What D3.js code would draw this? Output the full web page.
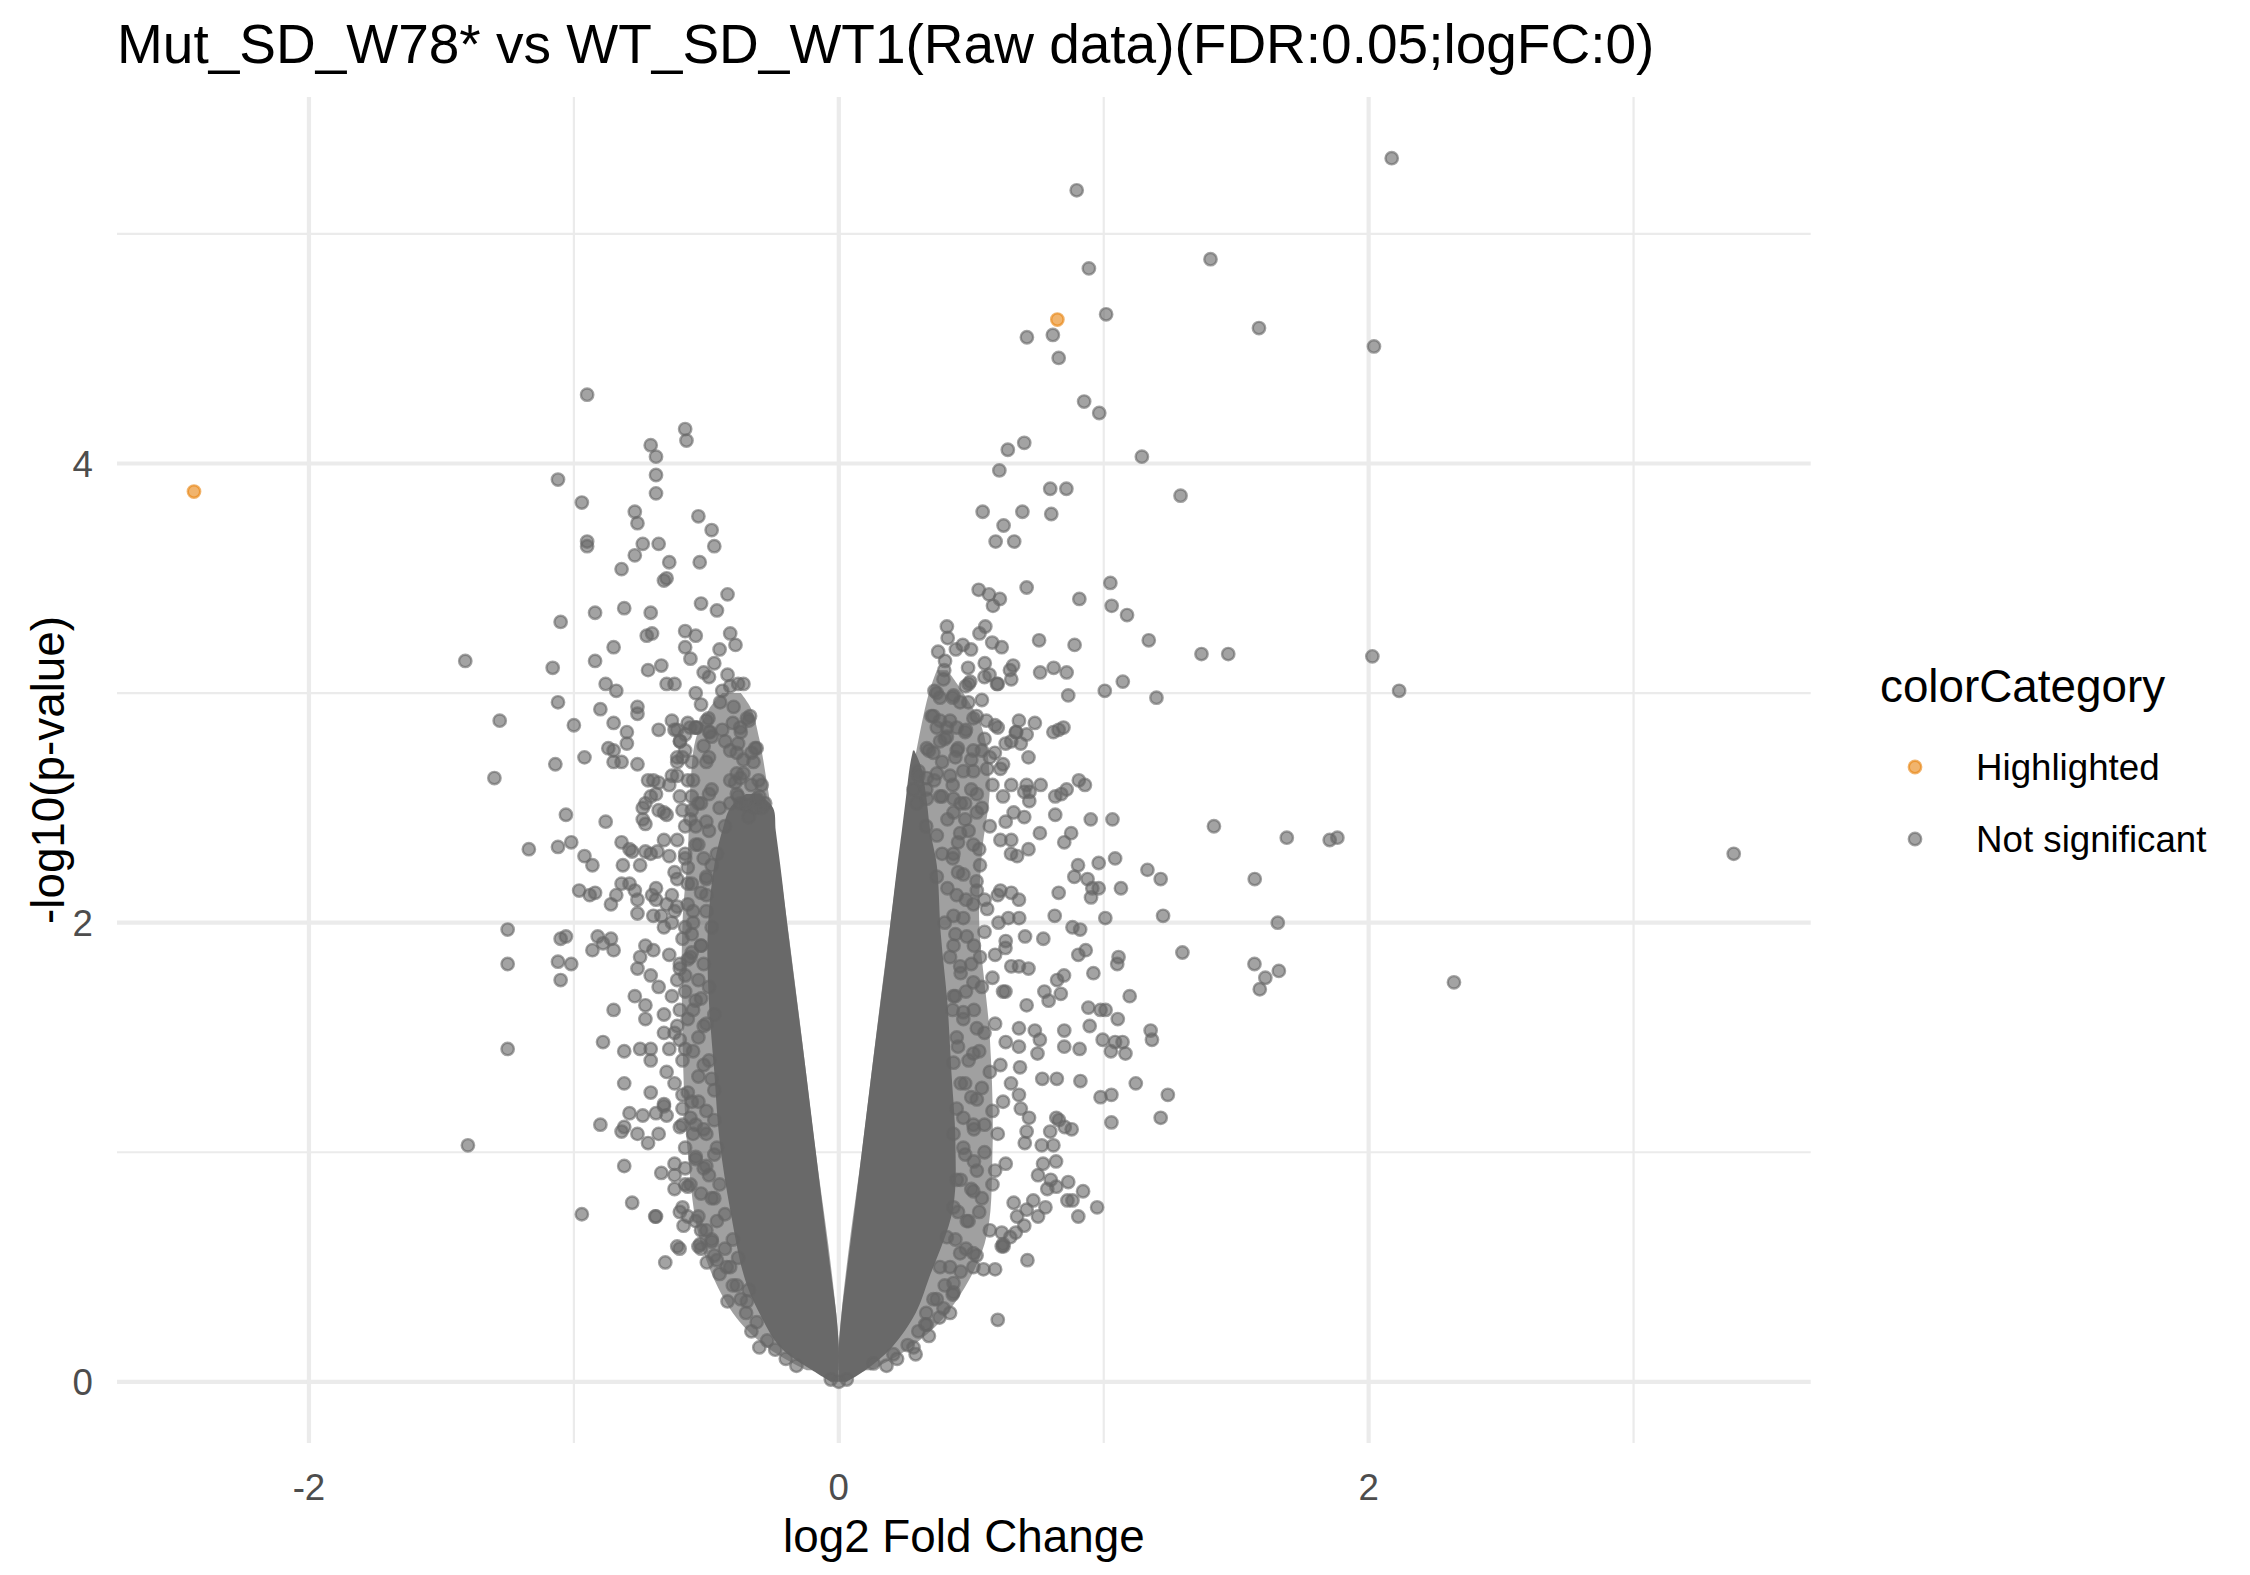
<!DOCTYPE html>
<html>
<head>
  <meta charset="utf-8">
  <title>Volcano plot</title>
  <script src="https://cdn.jsdelivr.net/npm/d3@7"></script>
  <style>
    body { margin: 0; background: #fff; }
    svg { display: block; font-family: "Liberation Sans", Arial, Helvetica, sans-serif; }
  </style>
</head>
<body>
<svg id="chart" width="2250" height="1575"></svg>
<script>
  // values: [log2 fold change, -log10(p)]
  var highlighted = [[-2.434, 3.878], [0.825, 4.627]];

  var leftUpper = [
    [-0.95,4.30],[-0.58,4.15],[-0.575,4.10],[-0.71,4.08],[-0.69,4.03],[-0.69,3.95],[-0.69,3.87],[-1.06,3.93],
    [-0.97,3.83],[-0.77,3.79],[-0.76,3.74],[-0.53,3.77],[-0.48,3.71],[-0.47,3.64],[-0.95,3.66],[-0.95,3.64],
    [-0.74,3.65],[-0.68,3.65],[-0.77,3.60],[-0.82,3.54],[-0.64,3.57],[-0.525,3.57],[-0.66,3.49],[-0.65,3.50],
    [-0.52,3.39],[-0.46,3.36],[-0.92,3.35],[-0.81,3.37],[-0.71,3.35],[-1.05,3.31],[-0.725,3.25],[-0.705,3.26],
    [-0.58,3.27],[-0.54,3.25],[-0.58,3.20],[-0.56,3.15],[-0.85,3.20],[-1.41,3.14],[-1.08,3.11],[-0.92,3.14],
    [-0.72,3.10],[-0.67,3.12],[-0.51,3.09],[-0.49,3.07],[-0.47,3.13],[-0.88,3.04],[-0.84,3.01],[-0.65,3.04],
    [-0.62,3.04],[-0.54,3.00],[-0.42,3.43],[-0.41,3.26],[-0.39,3.21],[-0.45,3.19],[-0.42,3.08],[-0.38,3.04],
    [-0.36,3.04],[-0.44,3.01],[-0.41,3.03]
  ];

  var leftWing = [
    [-1.06,2.96],[-1.28,2.88],[-1.00,2.86],[-0.90,2.93],[-0.85,2.87],[-0.80,2.83],[-0.80,2.78],[-0.76,2.94],
    [-0.76,2.91],[-0.63,2.88],[-0.68,2.84],[-0.62,2.84],[-0.57,2.87],[-0.54,2.85],[-0.49,2.83],[-0.87,2.76],
    [-0.85,2.75],[-0.85,2.70],[-0.82,2.70],[-0.76,2.69],[-0.96,2.72],[-1.07,2.69],[-1.30,2.63],[-0.60,2.79],
    [-0.58,2.75],[-0.61,2.72],[-0.555,2.70],[-0.51,2.77],[-0.61,2.64],[-0.63,2.64],[-0.70,2.62],[-0.68,2.61],
    [-0.71,2.55],[-0.73,2.52],[-0.74,2.50],[-0.68,2.49],[-0.65,2.47],[-0.59,2.49],[-0.555,2.55],[-0.53,2.52],
    [-0.555,2.49],[-1.03,2.47],[-0.88,2.44],[-0.74,2.45],[-0.73,2.43],[-0.58,2.42],[-0.54,2.42],[-0.49,2.40],
    [-1.17,2.32],[-1.06,2.33],[-1.01,2.35],[-0.96,2.29],[-0.93,2.25],[-0.82,2.35],[-0.78,2.31],[-0.73,2.31],
    [-0.815,2.25],[-0.685,2.31],[-0.64,2.29],[-0.61,2.36],[-0.57,2.24],[-0.61,2.19],[-0.555,2.17],[-0.51,2.28],
    [-0.50,2.19],[-0.82,2.17],[-0.79,2.17],[-0.98,2.14],[-0.94,2.12],[-0.92,2.13],[-0.84,2.12],[-0.86,2.08],
    [-0.76,2.10],[-0.76,2.04],[-0.705,2.12],[-0.69,2.10],[-0.65,2.08],[-0.61,2.07],[-0.57,2.08],[-0.67,2.03],
    [-0.63,2.00],[-0.58,1.98],[-0.555,1.95],[-1.25,1.97],[-1.05,1.93],[-1.03,1.94],[-0.91,1.94],[-0.89,1.91],
    [-0.86,1.93],[-0.93,1.88],[-0.85,1.88],[-0.73,1.90],[-0.70,1.88],[-0.75,1.85],[-1.25,1.82],[-1.06,1.83],
    [-1.01,1.82],[-1.05,1.75],[-0.76,1.80],[-0.71,1.77],[-0.60,1.82],[-0.61,1.75],[-0.58,1.77],[-0.555,1.87],
    [-0.77,1.68],[-0.73,1.64],[-0.85,1.62],[-0.73,1.58],[-0.60,1.62],[-0.66,1.52],[-0.62,1.52],[-0.60,1.49],
    [-1.25,1.45],[-0.89,1.48],[-0.81,1.44],[-0.75,1.45],[-0.71,1.45],[-0.71,1.40],[-0.65,1.35],[-0.81,1.30],
    [-0.71,1.26],[-0.66,1.21],[-0.59,1.25],[-0.79,1.17],[-0.74,1.16],[-0.69,1.17],[-0.65,1.16],[-0.59,1.19],
    [-0.555,1.22],[-0.90,1.12],[-0.82,1.09],[-0.81,1.11],[-0.76,1.08],[-0.72,1.04],[-0.68,1.08],[-0.60,1.11],
    [-0.54,1.12],[-1.40,1.03],[-0.81,0.94],[-0.67,0.91],[-0.62,0.95],[-0.58,0.93],[-0.51,0.93],[-0.62,0.84],
    [-0.57,0.85],[-0.78,0.78],[-0.97,0.73],[-0.69,0.72],[-0.59,0.76],[-0.57,0.72],[-0.53,0.72],[-0.61,0.59],
    [-0.53,0.59]
  ];

  var leftEdge = [
    [-0.52,2.95],[-0.50,2.70],[-0.57,2.62],[-0.49,2.56],[-0.53,2.34],[-0.58,2.30],[-0.50,2.12],[-0.55,2.05],
    [-0.48,1.98],[-0.52,1.90],[-0.57,1.84],[-0.49,1.72],[-0.54,1.66],[-0.47,1.60],[-0.51,1.55],[-0.58,1.45],
    [-0.49,1.40],[-0.53,1.33],[-0.47,1.27],[-0.56,1.15],[-0.50,1.08],[-0.46,1.02],[-0.54,0.97],[-0.49,0.90],
    [-0.58,0.86],[-0.47,0.80],[-0.52,0.66],[-0.48,0.62],
    [-0.448,2.96],[-0.397,2.94],[-0.372,2.85],[-0.347,2.89],[-0.335,2.90],[-0.316,2.76],[-0.429,2.79],
    [-0.41,2.75],[-0.385,2.74],[-0.36,2.71],[-0.372,2.63],[-0.322,2.70],[-0.303,2.62],[-0.291,2.60],
    [-0.309,2.54],[-0.278,2.52],[-0.385,2.65],[-0.391,2.61],[-0.385,2.56],[-0.372,2.52],[-0.347,2.51],
    [-0.316,2.50],[-0.41,2.52],[-0.492,2.89],[-0.486,2.83],[-0.561,2.85],[-0.536,2.85],[-0.599,2.79],
    [-0.655,0.52],[-0.601,0.58],[-0.523,0.60],[-0.479,0.61],[-0.46,0.53],[-0.423,0.50],[-0.385,0.42],
    [-0.347,0.35],[-0.693,0.72],[-0.586,0.68],[-0.498,0.52],[-0.03,0.01],[0.00,0.00],[0.03,0.01]
  ];

  var leftDense = [
    [-0.61,2.84],[-0.58,2.82],[-0.54,2.85],[-0.50,2.88],[-0.48,2.81],[-0.44,2.84],[-0.40,2.87],[-0.37,2.83],
    [-0.34,2.88],[-0.59,2.72],[-0.61,2.70],[-0.49,2.72],[-0.38,2.78],[-0.31,2.76],[-0.33,2.74],
    [-0.72,2.62],[-0.69,2.56],[-0.64,2.60],[-0.60,2.55],[-0.55,2.62],[-0.52,2.52],[-0.48,2.58],[-0.45,2.50],
    [-0.41,2.62],[-0.38,2.55],[-0.36,2.65],[-0.33,2.60],[-0.30,2.55],[-0.66,2.48],[-0.56,2.45],[-0.50,2.44],
    [-0.43,2.42],[-0.34,2.46],[-0.29,2.50],
    [-0.79,2.32],[-0.75,2.25],[-0.71,2.30],[-0.66,2.36],[-0.62,2.22],[-0.58,2.28],[-0.54,2.34],[-0.50,2.20],
    [-0.46,2.30],[-0.69,2.15],[-0.63,2.12],[-0.57,2.17],[-0.52,2.13],[-0.48,2.25],[-0.77,2.14],
    [-0.70,2.03],[-0.66,1.98],[-0.62,2.05],[-0.59,1.93],[-0.55,2.00],[-0.52,1.90],[-0.50,2.05],[-0.64,1.86],
    [-0.60,1.80],[-0.56,1.85],[-0.53,1.75],[-0.51,1.82],[-0.68,1.72],[-0.63,1.68],[-0.58,1.70],[-0.55,1.62],
    [-0.52,1.67],
    [-0.66,1.60],[-0.61,1.55],[-0.57,1.58],[-0.53,1.50],[-0.50,1.56],[-0.64,1.45],[-0.59,1.40],[-0.55,1.44],
    [-0.51,1.38],[-0.48,1.32],[-0.62,1.30],[-0.57,1.26],[-0.53,1.22],[-0.50,1.18],[-0.66,1.20],[-0.59,1.12],
    [-0.55,1.08],[-0.51,1.10],[-0.47,1.14],
    [-0.58,1.02],[-0.54,0.98],[-0.50,0.94],[-0.47,0.99],[-0.62,0.90],[-0.56,0.86],[-0.52,0.82],[-0.48,0.80],
    [-0.45,0.86],[-0.60,0.74],[-0.54,0.70],[-0.50,0.66],[-0.46,0.70],[-0.43,0.73],[-0.52,0.58],[-0.47,0.55],
    [-0.43,0.58],[-0.40,0.62],[-0.45,0.47],[-0.41,0.50],[-0.38,0.54],
    [-0.40,0.42],[-0.37,0.36],[-0.34,0.40],[-0.35,0.30],[-0.31,0.26],[-0.33,0.22],[-0.27,0.18],[-0.24,0.14],
    [-0.30,0.15],[-0.20,0.10],[-0.16,0.07],[-0.42,0.35]
  ];

  var rightUpper = [
    [0.898,5.19],[1.403,4.89],[0.944,4.85],[1.009,4.65],[1.586,4.59],[0.710,4.55],[0.808,4.56],[0.830,4.46],
    [0.926,4.27],[0.983,4.22],[0.700,4.09],[0.638,4.06],[1.144,4.03],[0.606,3.97],[0.798,3.89],[0.859,3.89],
    [1.290,3.86],[0.543,3.79],[0.693,3.79],[0.802,3.78],[0.622,3.73],[0.592,3.66],[0.662,3.66],[0.528,3.45],
    [0.567,3.43],[0.608,3.41],[0.582,3.38],[0.709,3.46],[0.908,3.41],[1.025,3.48],[1.030,3.38],[1.088,3.34],
    [0.408,3.29],[0.411,3.24],[0.553,3.29],[0.531,3.26],[0.375,3.18],[0.442,3.19],[0.468,3.21],[0.499,3.19],
    [0.579,3.22],[0.615,3.20],[0.756,3.23],[0.890,3.21],[1.170,3.23],[1.369,3.17],[1.470,3.17],[0.401,3.14],
    [0.488,3.11],[0.551,3.13],[0.569,3.08],[0.398,3.10],[0.395,3.06],[0.646,3.10],[0.658,3.12],[0.651,3.06],
    [0.597,3.04],[0.496,3.05],[0.479,3.03],[0.760,3.09],[0.811,3.11],[0.860,3.09],[1.072,3.05],[1.004,3.01],
    [0.866,2.99],[1.199,2.98],[0.361,3.01]
  ];

  var farRight = [
    [2.087,5.33],[2.020,4.51],[2.014,3.16],[2.115,3.01],[3.378,2.30],[2.322,1.74]
  ];

  var rightWing = [
    [0.680,2.88],[0.740,2.87],[0.600,2.85],[0.557,2.88],[0.810,2.83],[0.83,2.84],[0.848,2.85],[0.668,2.83],
    [0.709,2.82],[0.651,2.79],[0.687,2.78],[0.589,2.74],[0.540,2.75],[0.716,2.72],[0.56,2.67],[0.61,2.67],
    [0.651,2.60],[0.709,2.60],[0.762,2.60],[0.72,2.57],[0.817,2.55],[0.84,2.56],[0.860,2.58],[0.906,2.62],
    [0.929,2.60],[0.719,2.53],[0.817,2.47],[0.951,2.45],[1.033,2.45],[1.416,2.42],[1.691,2.37],[1.853,2.36],
    [1.882,2.37],[0.759,2.39],[0.877,2.39],[0.851,2.35],[0.70,2.46],[0.63,2.44],[0.651,2.36],[0.716,2.32],
    [0.673,2.29],[1.043,2.28],[0.981,2.26],[0.903,2.25],[0.889,2.20],[0.939,2.19],[0.957,2.15],[0.981,2.15],
    [0.952,2.11],[1.065,2.15],[1.165,2.23],[1.215,2.19],[1.570,2.19],[0.830,2.13],[0.651,2.13],[0.61,2.14],
    [0.55,2.10],[0.815,2.03],[0.681,2.02],[0.603,2.00],[1.006,2.02],[1.224,2.03],[1.657,2.00],[0.882,1.98],
    [0.911,1.97],[0.703,1.94],[0.772,1.93],[0.629,1.89],[0.904,1.86],[0.932,1.88],[1.056,1.85],[1.051,1.82],
    [1.297,1.87],[1.569,1.82],[1.661,1.79],[1.610,1.76],[1.589,1.71],[0.68,1.81],[0.716,1.80],[0.651,1.81],
    [0.961,1.78],[0.824,1.75],[0.850,1.77],[0.776,1.70],[0.838,1.69],[0.792,1.66],[0.629,1.70],[0.709,1.64],
    [1.098,1.68],[0.942,1.63],[0.988,1.62],[1.007,1.62],[0.947,1.55],[1.053,1.58],[1.177,1.53],[1.182,1.49],
    [0.740,1.53],[0.759,1.49],[0.851,1.53],[0.851,1.46],[0.909,1.45],[0.996,1.49],[1.043,1.48],[1.071,1.48],
    [1.027,1.44],[1.082,1.43],[0.680,1.54],[0.680,1.46],[0.684,1.37],[0.750,1.43],[0.768,1.32],[0.823,1.32],
    [0.912,1.31],[1.121,1.30],[0.988,1.24],[1.029,1.25],[1.242,1.25],[1.215,1.15],[1.029,1.13],[0.680,1.25],
    [0.687,1.19],[0.718,1.15],[0.821,1.15],[0.831,1.14],[0.853,1.11],[0.879,1.10],[0.798,1.09],[0.766,1.03],
    [0.810,1.03],[0.709,1.09],[0.702,1.04],[0.771,0.95],[0.820,0.96],[0.752,0.90],[0.80,0.88],[0.821,0.85],
    [0.787,0.84],[0.866,0.87],[0.922,0.83],[0.975,0.76],[0.863,0.79],[0.882,0.79],[0.904,0.72],[0.734,0.79],
    [0.780,0.76],[0.752,0.72],[0.709,0.75],[0.673,0.72],[0.668,0.65],[0.615,0.65],[0.622,0.59]
  ];

  var rightEdge = [
    [0.382,2.98],[0.433,2.99],[0.458,2.96],[0.489,2.96],[0.357,2.90],[0.382,2.88],[0.408,2.85],[0.445,2.85],
    [0.477,2.83],[0.508,2.89],[0.332,2.76],[0.357,2.74],[0.382,2.79],[0.408,2.81],[0.445,2.75],[0.508,2.75],
    [0.301,2.66],[0.332,2.63],[0.370,2.65],[0.420,2.64],[0.470,2.66],[0.508,2.66],[0.282,2.58],[0.294,2.52],
    [0.332,2.54],[0.382,2.55],[0.433,2.54],[0.477,2.52],[0.521,2.56],
    [0.433,2.48],[0.477,2.45],[0.521,2.48],[0.458,2.39],[0.508,2.34],[0.433,2.30],[0.533,2.25],[0.470,2.21],
    [0.521,2.14],[0.445,2.12],[0.508,2.08],[0.433,2.03],[0.483,1.94],[0.433,1.90],[0.533,1.85],[0.458,1.81],
    [0.508,1.74],[0.433,1.68],[0.470,1.61],[0.521,1.54],[0.445,1.50],[0.508,1.43],[0.433,1.39],[0.477,1.30],
    [0.521,1.23],[0.445,1.19],[0.508,1.12],[0.433,1.08],[0.477,0.99],[0.521,0.92],[0.445,0.88],[0.508,0.83],
    [0.433,0.76],[0.483,0.70],[0.408,0.63],[0.458,0.56],[0.382,0.50],[0.433,0.43],[0.357,0.36],[0.395,0.32],
    [0.332,0.25],[0.282,0.15],[0.206,0.12],[0.131,0.08],
    [0.600,0.27],[0.712,0.53],[0.326,0.25],[0.433,0.39],[0.508,0.56],[0.546,0.49],[0.590,0.49],[0.647,0.63],
    [0.615,0.59],[0.508,0.50]
  ];

  var rightDense = [
    [0.37,3.00],[0.43,2.98],[0.49,3.04],[0.55,3.07],[0.60,3.04],[0.54,2.97],
    [0.35,2.90],[0.37,2.85],[0.40,2.80],[0.42,2.88],[0.45,2.76],[0.48,2.84],[0.52,2.90],[0.55,2.80],
    [0.59,2.86],[0.63,2.78],[0.67,2.83],[0.34,2.75],[0.39,2.70],[0.44,2.72],[0.50,2.71],[0.57,2.72],[0.62,2.69],
    [0.30,2.64],[0.33,2.58],[0.36,2.62],[0.39,2.55],[0.43,2.60],[0.46,2.52],[0.50,2.58],[0.54,2.50],
    [0.58,2.60],[0.62,2.55],[0.66,2.48],[0.70,2.57],[0.33,2.42],[0.37,2.38],[0.41,2.45],[0.45,2.35],
    [0.49,2.40],[0.53,2.32],[0.57,2.42],[0.61,2.36],[0.65,2.30],[0.39,2.30],[0.43,2.28],
    [0.37,2.20],[0.41,2.15],[0.45,2.22],[0.48,2.10],[0.52,2.18],[0.56,2.06],[0.60,2.12],[0.64,2.02],
    [0.68,2.10],[0.40,2.00],[0.44,1.95],[0.47,2.02],[0.51,1.90],[0.55,1.96],[0.59,1.86],[0.63,1.92],
    [0.42,1.85],[0.46,1.78],[0.50,1.82],[0.54,1.72],[0.58,1.76],[0.62,1.70],[0.44,1.68],[0.48,1.70],
    [0.43,1.62],[0.47,1.58],[0.51,1.62],[0.55,1.52],[0.59,1.56],[0.63,1.48],[0.45,1.46],[0.49,1.40],
    [0.53,1.44],[0.57,1.35],[0.61,1.38],[0.65,1.30],[0.46,1.30],[0.50,1.24],[0.54,1.28],[0.58,1.18],
    [0.62,1.22],[0.47,1.15],[0.51,1.10],[0.55,1.12],[0.60,1.08],
    [0.47,1.02],[0.51,0.96],[0.55,1.00],[0.59,0.92],[0.63,0.95],[0.46,0.88],[0.50,0.84],[0.54,0.80],
    [0.58,0.86],[0.45,0.74],[0.49,0.70],[0.53,0.74],[0.57,0.66],[0.44,0.62],[0.48,0.58],[0.52,0.55],
    [0.42,0.50],[0.46,0.48],[0.66,0.78],[0.70,0.68],[0.62,0.60],
    [0.40,0.42],[0.37,0.36],[0.43,0.38],[0.33,0.30],[0.38,0.28],[0.30,0.22],[0.34,0.20],[0.26,0.16],
    [0.29,0.12],[0.22,0.10],[0.18,0.07],[0.42,0.30]
  ];

  // dense core of each arm of the V, where the dots overlap into solid grey
  var leftP      = [0.00, 0.05, 0.15, 0.30, 0.45, 0.75, 1.05, 1.35, 1.65, 1.95, 2.25, 2.40, 2.50, 2.56];
  var leftOuter  = [-0.03, -0.10, -0.22, -0.30, -0.355, -0.41, -0.45, -0.47, -0.49, -0.495, -0.47, -0.44, -0.41, -0.35];
  var leftInner  = [0.00, 0.00, 0.00, -0.01, -0.027, -0.06, -0.092, -0.124, -0.157, -0.19, -0.221, -0.238, -0.248, -0.30];
  var rightP     = [0.00, 0.05, 0.15, 0.30, 0.45, 0.75, 1.05, 1.35, 1.65, 1.95, 2.25, 2.40, 2.55, 2.68, 2.75];
  var rightInner = [0.00, 0.00, 0.00, 0.011, 0.027, 0.06, 0.092, 0.124, 0.157, 0.19, 0.221, 0.238, 0.254, 0.268, 0.28];
  var rightOuter = [0.03, 0.10, 0.20, 0.29, 0.34, 0.43, 0.44, 0.425, 0.41, 0.385, 0.37, 0.345, 0.33, 0.31, 0.285];

  // looser cloud of overlapping dots around each arm
  var leftHaloP      = [0.05, 0.15, 0.30, 0.60, 1.00, 1.50, 2.00, 2.30, 2.60, 2.80, 2.93, 3.00];
  var leftHaloOuter  = [-0.12, -0.27, -0.40, -0.52, -0.57, -0.59, -0.59, -0.57, -0.56, -0.54, -0.49, -0.44];
  var leftHaloInner  = [0.00, 0.00, -0.01, -0.04, -0.087, -0.14, -0.195, -0.23, -0.27, -0.30, -0.33, -0.37];
  var rightHaloP     = [0.05, 0.15, 0.30, 0.60, 1.00, 1.50, 2.00, 2.30, 2.60, 2.85, 3.00, 3.10];
  var rightHaloInner = [0.00, 0.00, 0.01, 0.04, 0.087, 0.14, 0.195, 0.23, 0.27, 0.31, 0.34, 0.37];
  var rightHaloOuter = [0.12, 0.27, 0.41, 0.55, 0.58, 0.57, 0.53, 0.54, 0.57, 0.54, 0.47, 0.41];

  var xMajor = [-2, 0, 2], xMinor = [-1, 1, 3];
  var yMajor = [0, 2, 4], yMinor = [1, 3, 5];
  var legendItems = ['Highlighted', 'Not significant'];

  var grey = '#666666', orange = '#E8820C';

  var notSig = [].concat(leftUpper, leftWing, leftEdge, leftDense, rightUpper, farRight, rightWing, rightEdge, rightDense);
  var all = notSig.concat(highlighted);

  var svg = d3.select('#chart');
  var panel = {left: 117, right: 1810.7, top: 97, bottom: 1443};

  // ggplot-style 5% expansion of the data range
  var xExt = d3.extent(all, function(d) { return d[0]; });
  var yExt = d3.extent(all, function(d) { return d[1]; });
  var xPad = (xExt[1] - xExt[0]) * 0.05, yPad = (yExt[1] - yExt[0]) * 0.05;

  var x = d3.scaleLinear().domain([xExt[0] - xPad, xExt[1] + xPad]).range([panel.left, panel.right]);
  var y = d3.scaleLinear().domain([yExt[0] - yPad, yExt[1] + yPad]).range([panel.bottom, panel.top]);

  var grid = svg.append('g').attr('class', 'grid').attr('stroke', '#EBEBEB');
  grid.selectAll('.ymin').data(yMinor).enter().append('line')
      .attr('x1', panel.left).attr('x2', panel.right)
      .attr('y1', y).attr('y2', y).attr('stroke-width', 2.2);
  grid.selectAll('.xmin').data(xMinor).enter().append('line')
      .attr('y1', panel.top).attr('y2', panel.bottom)
      .attr('x1', x).attr('x2', x).attr('stroke-width', 2.2);
  grid.selectAll('.ymaj').data(yMajor).enter().append('line')
      .attr('x1', panel.left).attr('x2', panel.right)
      .attr('y1', y).attr('y2', y).attr('stroke-width', 4.2);
  grid.selectAll('.xmaj').data(xMajor).enter().append('line')
      .attr('y1', panel.top).attr('y2', panel.bottom)
      .attr('x1', x).attr('x2', x).attr('stroke-width', 4.2);

  var arm = d3.area().curve(d3.curveCatmullRom)
      .y(function(d) { return y(d.p); })
      .x0(function(d) { return x(d.a); })
      .x1(function(d) { return x(d.b); });
  function band(ps, a, b) {
    return ps.map(function(p, i) { return {p: p, a: a[i], b: b[i]}; });
  }

  // halo first, then the solid core on top of it
  var halo = svg.append('g').attr('fill', grey).attr('fill-opacity', 0.62);
  halo.append('path').attr('d', arm(band(leftHaloP, leftHaloOuter, leftHaloInner)));
  halo.append('path').attr('d', arm(band(rightHaloP, rightHaloInner, rightHaloOuter)));

  svg.append('path').attr('d', arm(band(leftP, leftOuter, leftInner))).attr('fill', '#696969');
  svg.append('path').attr('d', arm(band(rightP, rightInner, rightOuter))).attr('fill', '#696969');

  function dots(data, color) {
    svg.append('g').selectAll('circle').data(data).enter().append('circle')
        .attr('cx', function(d) { return x(d[0]); })
        .attr('cy', function(d) { return y(d[1]); })
        .attr('r', 6.2)
        .attr('fill', color).attr('fill-opacity', 0.6)
        .attr('stroke', color).attr('stroke-opacity', 0.6)
        .attr('stroke-width', 2.4);
  }
  dots(notSig, grey);
  dots(highlighted, orange);

  // axes text
  var tickFont = 36.7, titleFont = 45.8;
  svg.append('g').selectAll('text').data(yMajor).enter().append('text')
      .attr('x', 93).attr('y', function(d) { return y(d) + 13; })
      .attr('text-anchor', 'end').attr('font-size', tickFont).attr('fill', '#4D4D4D')
      .text(function(d) { return d; });
  svg.append('g').selectAll('text').data(xMajor).enter().append('text')
      .attr('x', x).attr('y', 1500)
      .attr('text-anchor', 'middle').attr('font-size', tickFont).attr('fill', '#4D4D4D')
      .text(function(d) { return d; });

  svg.append('text')
      .attr('x', (panel.left + panel.right) / 2).attr('y', 1552)
      .attr('text-anchor', 'middle').attr('font-size', titleFont)
      .text('log2 Fold Change');
  svg.append('text')
      .attr('transform', 'translate(64,' + (panel.top + panel.bottom) / 2 + ') rotate(-90)')
      .attr('text-anchor', 'middle').attr('font-size', titleFont)
      .text('-log10(p-value)');
  svg.append('text')
      .attr('x', panel.left).attr('y', 63)
      .attr('font-size', 55)
      .text('Mut_SD_W78* vs WT_SD_WT1(Raw data)(FDR:0.05;logFC:0)');

  // legend
  var legend = svg.append('g').attr('transform', 'translate(1880,0)');
  legend.append('text').attr('x', 0).attr('y', 702).attr('font-size', titleFont).text('colorCategory');
  var item = legend.selectAll('.item').data(legendItems).enter().append('g')
      .attr('transform', function(d, i) { return 'translate(0,' + (767 + i * 72) + ')'; });
  item.append('circle').attr('cx', 35).attr('cy', 0).attr('r', 6.2)
      .attr('fill', function(d, i) { return i === 0 ? orange : grey; }).attr('fill-opacity', 0.6)
      .attr('stroke', function(d, i) { return i === 0 ? orange : grey; }).attr('stroke-opacity', 0.6)
      .attr('stroke-width', 2.4);
  item.append('text').attr('x', 96).attr('y', 13).attr('font-size', tickFont)
      .text(function(d) { return d; });
</script>
</body>
</html>
